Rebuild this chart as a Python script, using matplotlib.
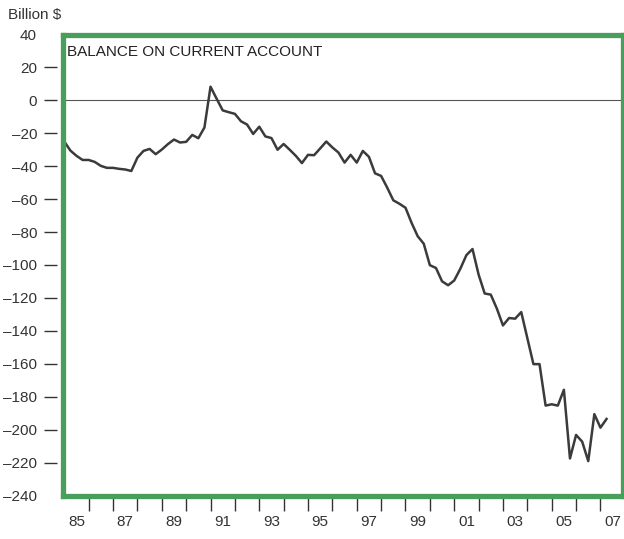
import numpy as np
import matplotlib
matplotlib.use("Agg")
import matplotlib.pyplot as plt

plt.rcParams["font.family"] = ["Liberation Sans", "DejaVu Sans"]

# quarterly balance on current account, billion $, 1985Q1 - 2007Q2
balance = [
    -25.0, -30.5, -33.7, -36.2, -36.2, -37.4, -39.8, -41.0,   # 1985-86
    -41.0, -41.6, -42.0, -42.9, -34.8, -30.7, -29.5, -32.7,   # 1987-88
    -29.9, -26.6, -23.8, -25.6, -25.2, -21.0, -23.0, -16.5,   # 1989-90
    8.3, 1.0, -6.1, -7.2, -8.2, -12.7, -14.7, -20.4,          # 1991-92
    -16.0, -21.9, -22.9, -30.0, -26.5, -30.0, -33.7, -38.1,   # 1993-94
    -33.1, -33.3, -29.2, -25.0, -28.6, -31.7, -37.8, -33.1,   # 1995-96
    -37.8, -30.7, -34.3, -44.3, -45.9, -53.0, -60.7, -62.8,   # 1997-98
    -65.2, -74.4, -82.5, -87.1, -100.1, -101.8, -109.9, -112.3,  # 1999-00
    -109.4, -102.3, -94.0, -90.3, -105.8, -117.3, -118.0, -126.5,  # 2001-02
    -136.7, -132.2, -132.6, -128.6, -144.4, -160.2, -160.2, -185.4,  # 2003-04
    -184.6, -185.4, -175.8, -217.5, -203.2, -207.3, -219.1, -190.6,  # 2005-06
    -198.8, -193.5,                                             # 2007
]
years = 1985 + np.arange(len(balance)) / 4

year_ticks = np.arange(1986, 2008)
label_pos = np.arange(1985.5, 2008, 2)
label_txt = ["85", "87", "89", "91", "93", "95", "97", "99", "01", "03", "05", "07"]
y_labels = np.arange(-240, 41, 20)
y_dashes = np.arange(-220, 21, 20)

GREEN = "#4a9e5c"
INK = "#333333"

fig = plt.figure(figsize=(6.24, 5.39), dpi=100)
ax = fig.add_axes([62.5 / 624, 1 - 495.5 / 539, 560 / 624, 461 / 539])

ax.axhline(0, color="#555555", lw=0.8, zorder=1)
ax.plot(years, balance, color="#3b3b3b", lw=1.8, zorder=3)

ax.set_xlim(1984.926, 2007.905)
ax.set_ylim(-240, 40)

for s in ax.spines.values():
    s.set_color(GREEN)
    s.set_linewidth(3.8)
    s.set_zorder(4)

# y axis: labels only; the dashes sit left of the frame with a small gap
ax.set_yticks(y_labels)
ax.set_yticklabels([f"{v:d}".replace("-", "\u2013") for v in y_labels])
ax.tick_params(axis="y", which="major", length=13.3, width=0, pad=5,
               labelsize=11, labelcolor=INK)
ax.hlines(y_dashes, -0.033, -0.0095, transform=ax.get_yaxis_transform(),
          colors=INK, lw=1.0, clip_on=False)

# x axis: ticks at year boundaries, labels centred in the year
ax.set_xticks(year_ticks)
ax.set_xticklabels([])
ax.set_xticks(label_pos, minor=True)
ax.set_xticklabels(label_txt, minor=True)
ax.tick_params(axis="x", which="major", direction="out", length=10.5,
               width=1.0, color=INK)
ax.tick_params(axis="x", which="minor", length=0, pad=14, labelsize=11,
               labelcolor=INK)

ax.text(0.008, 0.963, "BALANCE ON CURRENT ACCOUNT", transform=ax.transAxes,
        fontsize=11, color="#222222", ha="left", va="center")
fig.text(8 / 624, 1 - 15 / 539, "Billion $", fontsize=11, color=INK,
         ha="left", va="center")

fig.savefig("out.png", dpi=100)
